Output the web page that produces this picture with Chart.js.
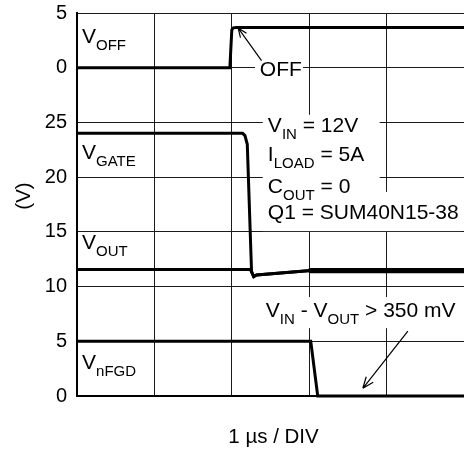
<!DOCTYPE html>
<html lang="en">
<head>
    <meta charset="UTF-8">
    <title>VOFF / VGATE / VOUT / VnFGD</title>
    <script src="https://cdn.jsdelivr.net/npm/chart.js"></script>
    <style>
        html, body { margin: 0; padding: 0; background: #fff; }
        #wrap { width: 464px; height: 452px; position: relative; }
    </style>
</head>
<body>
<div id="wrap"><canvas id="grafico"></canvas></div>

<script>
    const tOff = [0, 1.975, 2.0, 2.02, 2.06, 5];
    const vOff = [0, 0, 3.45, 3.64, 3.68, 3.68];

    const tGate = [0, 2.14, 2.17, 2.2, 2.255, 2.284, 2.32, 2.98, 3.02, 5];
    const vGate = [24.0, 24.0, 23.8, 23.0, 11.4, 10.9, 11.05, 11.45, 11.35, 11.35];

    const tOut = [0, 2.24, 2.28, 2.32, 2.98, 3.02, 5];
    const vOut = [11.57, 11.55, 10.95, 11.05, 11.45, 11.55, 11.55];

    const tFgd = [0, 3.02, 3.11, 5];
    const vFgd = [5, 5, 0, 0];

    // etiquetas del eje Y (de abajo hacia arriba)
    const yTickLabels = ['0', '5', '10', '15', '20', '25', '0', '5'];

    const FONT = '"Liberation Sans", Arial, sans-serif';
    const puntos = (ts, vs) => ts.map((t, i) => ({ x: t, y: vs[i] }));

    function trazo(ts, vs, eje) {
        return {
            data: puntos(ts, vs),
            yAxisID: eje,
            borderColor: '#000',
            borderWidth: 3,
            pointRadius: 0,
            tension: 0,
            clip: false
        };
    }

    // dibuja texto con subindices: [[texto, esSub], ...]
    function textoRico(ctx, partes, x, y) {
        partes.forEach(([txt, sub]) => {
            ctx.font = (sub ? '15px ' : '21px ') + FONT;
            ctx.fillText(txt, x, sub ? y + 7 : y);
            x += ctx.measureText(txt).width;
        });
    }

    function flecha(ctx, x1, y1, x2, y2, largo) {
        const ang = Math.atan2(y2 - y1, x2 - x1);
        ctx.beginPath();
        ctx.moveTo(x1, y1);
        ctx.lineTo(x2, y2);
        [-0.38, 0.38].forEach(d => {
            ctx.moveTo(x2, y2);
            ctx.lineTo(x2 - largo * Math.cos(ang + d), y2 - largo * Math.sin(ang + d));
        });
        ctx.stroke();
    }

    const notas = {
        id: 'notas',
        beforeDatasetsDraw(chart) {
            const { ctx, scales: { x, y } } = chart;
            ctx.save();
            ctx.fillStyle = '#fff';
            // [t1, v1, t2, v2] en unidades del grafico
            [[2.30, 30.8, 2.92, 28.95],
             [2.40, 25.7, 3.91, 18.65],
             [2.40, 18.65, 4.97, 15.07],
             [2.40, 9.04, 4.97, 6.2]].forEach(([t1, v1, t2, v2]) => {
                const px1 = x.getPixelForValue(t1), py1 = y.getPixelForValue(v1);
                ctx.fillRect(px1, py1, x.getPixelForValue(t2) - px1, y.getPixelForValue(v2) - py1);
            });
            ctx.restore();
        },
        afterDatasetsDraw(chart) {
            const { ctx, scales: { x, y } } = chart;
            ctx.save();
            ctx.fillStyle = '#000';
            ctx.strokeStyle = '#000';
            ctx.textBaseline = 'alphabetic';
            ctx.textAlign = 'left';

            const textos = [
                [[['V', 0], ['OFF', 1]], 0.065, 32.27],
                [[['V', 0], ['GATE', 1]], 0.065, 21.68],
                [[['V', 0], ['OUT', 1]], 0.065, 13.41],
                [[['V', 0], ['nFGD', 1]], 0.065, 2.45],
                [[['OFF', 0]], 2.362, 29.2],
                [[['V', 0], ['IN', 1], [' = 12V', 0]], 2.466, 24.15],
                [[['I', 0], ['LOAD', 1], [' = 5A', 0]], 2.466, 21.43],
                [[['C', 0], ['OUT', 1], [' = 0', 0]], 2.466, 18.53],
                [[['Q1 = SUM40N15-38', 0]], 2.466, 16.15],
                [[['V', 0], ['IN', 1], [' - V', 0], ['OUT', 1], [' > 350 mV', 0]], 2.44, 7.23]
            ];
            textos.forEach(([partes, t, v]) => textoRico(ctx, partes, x.getPixelForValue(t), y.getPixelForValue(v)));

            ctx.lineWidth = 1.2;
            flecha(ctx, x.getPixelForValue(2.384), y.getPixelForValue(30.65),
                x.getPixelForValue(2.081), y.getPixelForValue(33.64), 10);
            flecha(ctx, x.getPixelForValue(4.275), y.getPixelForValue(5.92),
                x.getPixelForValue(3.693), y.getPixelForValue(0.705), 12);

            // titulos de los ejes
            ctx.font = '20.5px ' + FONT;
            ctx.textAlign = 'center';
            ctx.textBaseline = 'middle';
            ctx.fillText('1 µs / DIV', (chart.chartArea.left + chart.chartArea.right) / 2 + 3, 437);
            ctx.translate(24, 196);
            ctx.rotate(-Math.PI / 2);
            ctx.fillText('(V)', 0, 0);
            ctx.restore();
        }
    };

    const ctx = document.getElementById('grafico').getContext('2d');
    const chart = new Chart(ctx, {
        type: 'line',
        data: {
            datasets: [
                trazo(tOff, vOff, 'yOff'),
                trazo(tGate, vGate, 'y'),
                trazo(tOut, vOut, 'y'),
                trazo(tFgd, vFgd, 'y')
            ]
        },
        options: {
            responsive: true,
            maintainAspectRatio: false,
            animation: false,
            layout: { padding: { top: 13, right: 0, left: 0, bottom: 0 } },
            plugins: { legend: { display: false }, tooltip: { enabled: false } },
            scales: {
                x: {
                    type: 'linear',
                    min: 0,
                    max: 5,
                    ticks: { display: false, stepSize: 1 },
                    grid: { color: '#1a1a1a', lineWidth: 1, drawTicks: false },
                    border: { color: '#000', width: 2 },
                    afterFit: s => { s.height = 56; s.paddingLeft = 0; s.paddingRight = 0; }
                },
                y: {
                    min: 0,
                    max: 35,
                    ticks: {
                        stepSize: 5,
                        padding: 10,
                        color: '#000',
                        font: { family: FONT, size: 20 },
                        callback: (v, i) => yTickLabels[i]
                    },
                    grid: { color: '#1a1a1a', lineWidth: 1, drawTicks: false },
                    border: { color: '#000', width: 2 },
                    afterFit: s => { s.width = 77; s.paddingTop = 0; s.paddingBottom = 0; }
                },
                yOff: {
                    display: false,
                    min: -30,
                    max: 5
                }
            }
        },
        plugins: [notas]
    });
</script>
</body>
</html>
